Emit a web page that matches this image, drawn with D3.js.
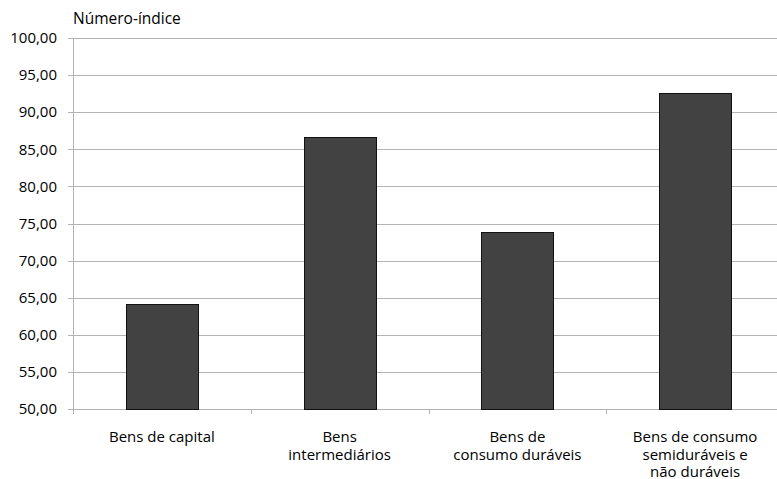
<!doctype html>
<html lang="pt">
<head>
  <meta charset="UTF-8">
  <title>Número-índice</title>
  <script src="https://cdn.jsdelivr.net/npm/d3@7"></script>
  <style>
    body { margin: 0; background: #fff; }
    text { font-family: "Open Sans", "Noto Sans", sans-serif; fill: #000; }
  </style>
</head>
<body>
<svg width="777" height="479" id="chart"></svg>
<script>
  // dados
  var categories = [
    ['Bens de capital'],
    ['Bens', 'intermediários'],
    ['Bens de', 'consumo duráveis'],
    ['Bens de consumo', 'semiduráveis e', 'não duráveis']
  ];
  var values = [64.15, 86.7, 73.85, 92.55];
  var yTicks = [50, 55, 60, 65, 70, 75, 80, 85, 90, 95, 100];

  var svg = d3.select('#chart'),
    margin = {top: 38, right: -7, bottom: 70, left: 73},
    width = +svg.attr('width') - margin.left - margin.right,
    height = +svg.attr('height') - margin.top - margin.bottom;

  var g = svg.append('g').attr('transform', 'translate(' + margin.left + ',' + margin.top + ')');

  var x = d3.scaleBand().domain(d3.range(categories.length)).range([0, width]).paddingInner(0.595).paddingOuter(0.2975),
    xb = d3.scaleBand().domain(d3.range(categories.length)).range([0, width]),
    y = d3.scaleLinear().domain([50, 100]).range([height, 0]);

  var fmt = function (d) { return d3.format('.2f')(d).replace('.', ','); };

  // grade horizontal
  g.append('g').selectAll('line').data(yTicks).enter().append('line')
    .attr('x1', -5).attr('x2', width)
    .attr('y1', function (d) { return Math.round(y(d)) + 0.5; })
    .attr('y2', function (d) { return Math.round(y(d)) + 0.5; })
    .attr('stroke', '#b3b3b3').attr('stroke-width', 1);

  // eixo y
  g.append('line').attr('x1', 0.5).attr('x2', 0.5).attr('y1', 0).attr('y2', height)
    .attr('stroke', '#b3b3b3');
  g.append('g').selectAll('text').data(yTicks).enter().append('text')
    .attr('x', -16)
    .attr('y', function (d) { return y(d); })
    .attr('dy', '0.35em')
    .attr('text-anchor', 'end')
    .attr('font-size', 15)
    .text(fmt);

  // eixo x: marcas nas fronteiras das categorias
  var bounds = d3.range(categories.length + 1).map(function (i) { return i * xb.step(); });
  g.append('g').selectAll('line').data(bounds).enter().append('line')
    .attr('x1', function (d) { return Math.round(d) + 0.5; })
    .attr('x2', function (d) { return Math.round(d) + 0.5; })
    .attr('y1', height).attr('y2', height + 5)
    .attr('stroke', '#b3b3b3');

  // barras
  g.selectAll('.bar').data(values).enter().append('rect').attr('class', 'bar')
    .attr('x', function (d, i) { return Math.round(x(i)) + 0.5; })
    .attr('y', function (d) { return Math.round(y(d)) + 0.5; })
    .attr('width', Math.round(x.bandwidth()))
    .attr('height', function (d) { return Math.round(height - y(d)); })
    .attr('fill', '#424242')
    .attr('stroke', '#111')
    .attr('stroke-width', 1);

  // rótulos das categorias
  var lab = g.append('g').selectAll('text').data(categories).enter().append('text')
    .attr('text-anchor', 'middle')
    .attr('font-size', 15)
    .attr('transform', function (d, i) { return 'translate(' + (xb(i) + xb.bandwidth() / 2) + ',' + (height + 33) + ')'; });
  lab.selectAll('tspan').data(function (d) { return d; }).enter().append('tspan')
    .attr('x', 0)
    .attr('y', function (d, j) { return j * 17.5; })
    .text(function (d) { return d; });

  // título do eixo
  svg.append('text')
    .attr('x', 73).attr('y', 24)
    .attr('font-size', 15.5)
    .text('Número-índice');
</script>
</body>
</html>
